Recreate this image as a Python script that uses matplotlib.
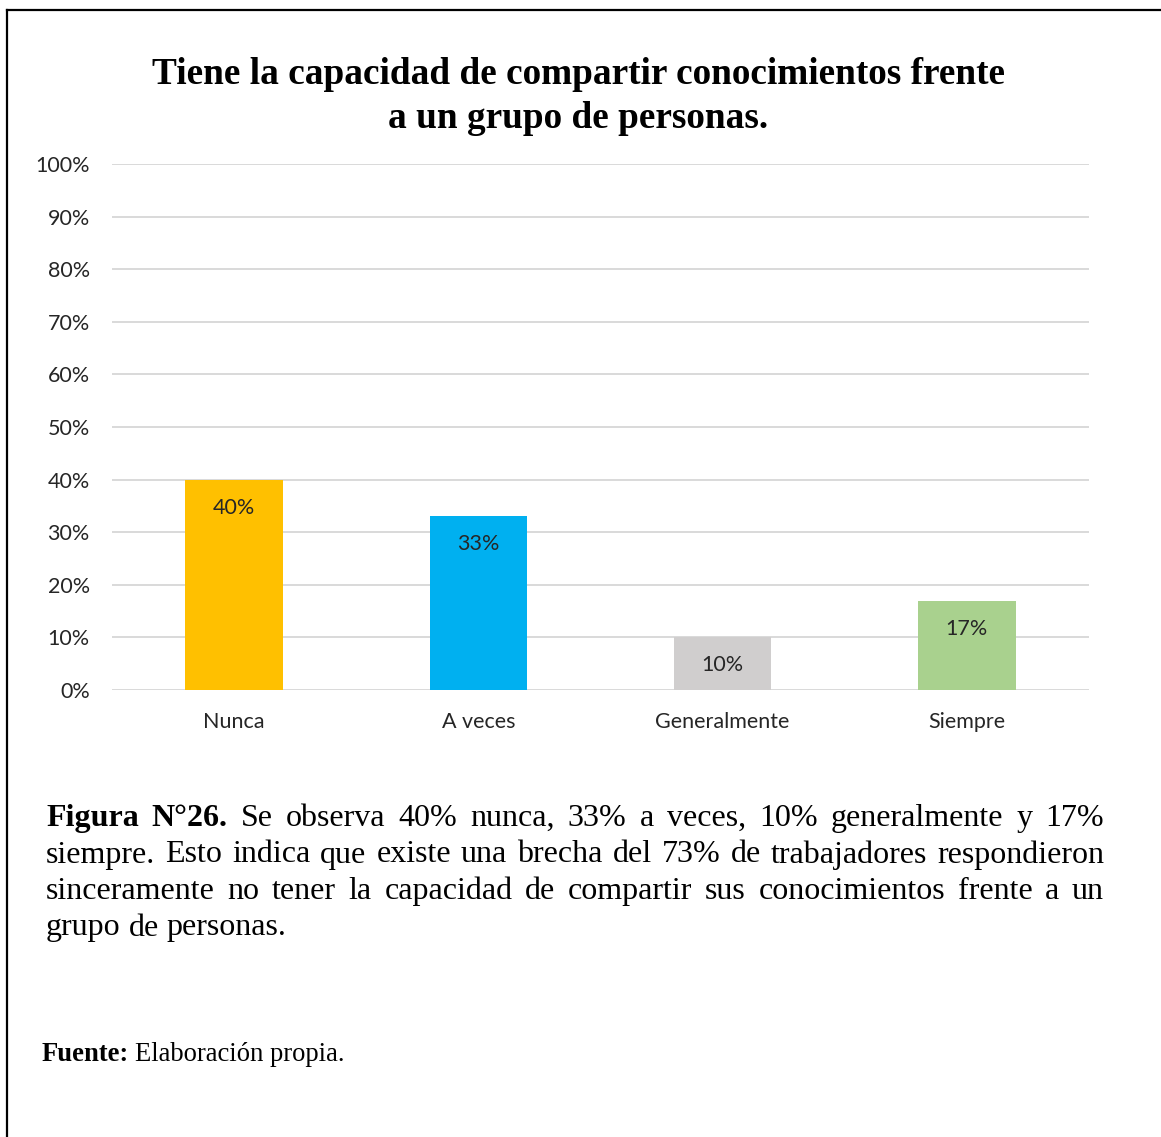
import matplotlib
matplotlib.use("Agg")
import matplotlib.pyplot as plt
from matplotlib.lines import Line2D
from matplotlib.ticker import FuncFormatter

categories = ["Nunca", "A veces", "Generalmente", "Siempre"]
values = [40, 33, 10, 17]
colors = ["#FFC000", "#00B0F0", "#D0CECE", "#A9D18E"]

title_lines = ["Tiene la capacidad de compartir conocimientos frente",
               "a un grupo de personas."]

caption_lines = [
    [("Figura", True), ("N°26.", True), ("Se", False), ("observa", False), ("40%", False),
     ("nunca,", False), ("33%", False), ("a", False), ("veces,", False), ("10%", False),
     ("generalmente", False), ("y", False), ("17%", False)],
    [(w, False) for w in "siempre. Esto indica que existe una brecha del 73% de trabajadores respondieron".split()],
    [(w, False) for w in "sinceramente no tener la capacidad de compartir sus conocimientos frente a un".split()],
    [(w, False) for w in "grupo de personas.".split()],
]

W, H = 1161, 1137
fig = plt.figure(figsize=(W / 100, H / 100), dpi=100)
fig.patch.set_facecolor("white")

# frame (left and top edges visible)
fig.add_artist(Line2D([7 / W, 7 / W], [0, 1 - 10 / H], transform=fig.transFigure, color="black", lw=1.6))
fig.add_artist(Line2D([7 / W, 1], [1 - 10 / H, 1 - 10 / H], transform=fig.transFigure, color="black", lw=1.6))

ax = fig.add_axes([112 / W, 447 / H, 977 / W, 526 / H])
x = list(range(len(categories)))
bars = ax.bar(x, values, width=0.4, color=colors, zorder=3)
ax.set_xlim(-0.5, 3.5)
ax.set_ylim(0, 100)
ax.set_yticks(range(0, 101, 10))
ax.yaxis.set_major_formatter(FuncFormatter(lambda v, p: f"{int(v)}%"))
ax.set_xticks(x)
ax.set_xticklabels(categories)
ax.grid(axis="y", color="#d9d9d9", lw=1.4, zorder=0)
for s in ax.spines.values():
    s.set_visible(False)
ax.tick_params(length=0, labelsize=15.5, colors="#262626")
ax.tick_params(axis="y", pad=16)
ax.tick_params(axis="x", pad=16)
for lab in ax.get_xticklabels() + ax.get_yticklabels():
    lab.set_fontfamily("Lato")

for b, v in zip(bars, values):
    ax.annotate(f"{v}%", (b.get_x() + b.get_width() / 2, v), xytext=(0, -28),
                textcoords="offset pixels", ha="center", va="center",
                fontsize=15.5, family="Lato", color="#262626", zorder=4)

# title
for i, t in enumerate(title_lines):
    fig.text(578 / W, 1 - (75 + 44 * i) / H, t, ha="center", va="center",
             fontsize=26.8, fontweight="bold", family="Liberation Serif")

# justified caption
renderer = fig.canvas.get_renderer()
x0, x1 = 46, 1104
fs = 23
for i, line in enumerate(caption_lines):
    y = 1 - (826 + 36.5 * i) / H
    texts = []
    for w, bold in line:
        t = fig.text(0, y, w, ha="left", va="baseline", fontsize=fs,
                     family="Liberation Serif", fontweight="bold" if bold else "normal")
        texts.append(t)
    widths = [t.get_window_extent(renderer).width for t in texts]
    if i < len(caption_lines) - 1:
        gap = (x1 - x0 - sum(widths)) / (len(texts) - 1)
    else:
        gap = 0.25 * fs * 100 / 72
    pos = x0
    for t, wd in zip(texts, widths):
        t.set_x(pos / W)
        pos += wd + gap

# source
ft = fig.text(42 / W, 1 - 1061 / H, "Fuente:", ha="left", va="baseline", fontsize=19.2,
              fontweight="bold", family="Liberation Serif")
fw = ft.get_window_extent(renderer).width
fig.text((42 + fw + 6) / W, 1 - 1061 / H, "Elaboración propia.", ha="left", va="baseline",
         fontsize=19.2, family="Liberation Serif")

fig.savefig("out.png", dpi=100)
